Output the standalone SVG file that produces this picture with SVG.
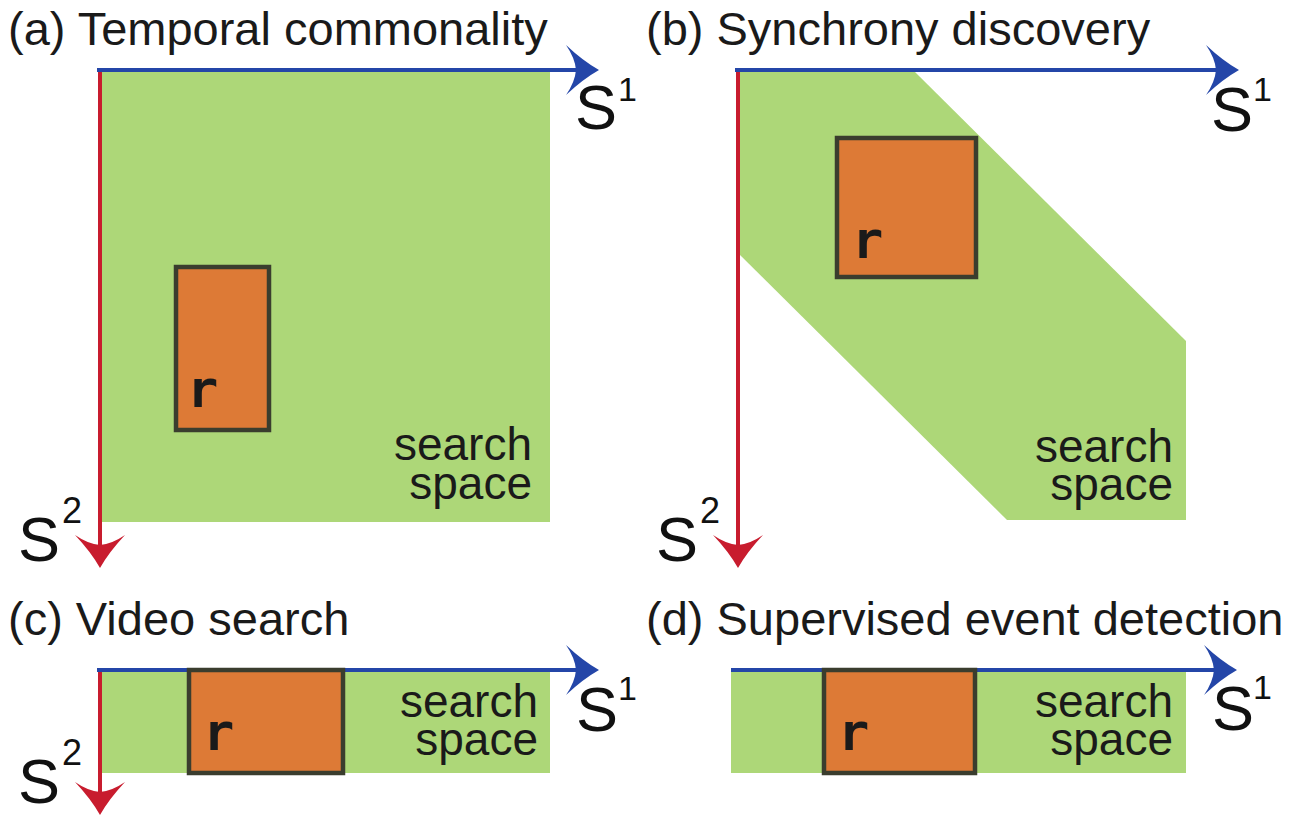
<svg xmlns="http://www.w3.org/2000/svg" width="1299" height="818" viewBox="0 0 1299 818">
<defs>
<style>
.title{font-family:"Liberation Sans",Arial,sans-serif;font-size:47px;fill:#1a1a1a}
.ss{font-family:"Liberation Sans",Arial,sans-serif;font-size:46px;fill:#1a1a1a;text-anchor:end}
.S{font-family:"Liberation Sans",Arial,sans-serif;font-size:63px;fill:#111}
.sup1{font-family:"Liberation Sans",Arial,sans-serif;font-size:34px;fill:#111}
.sup2{font-family:"Liberation Sans",Arial,sans-serif;font-size:36px;fill:#111}
.r{font-family:"DejaVu Sans Mono","Liberation Mono",monospace;font-weight:bold;font-size:52px;fill:#1a1a1a}
.space{fill:#add778}
.box{fill:#dd7a36;stroke:#3a3d2e;stroke-width:4.5}
.ax1{stroke:#2446a8;stroke-width:4;fill:none;marker-end:url(#hb)}
.ax2{stroke:#c81c2e;stroke-width:4;fill:none;marker-end:url(#hr)}
</style>
<marker id="hb" viewBox="0 -26 34 52" refX="10" refY="0" markerWidth="34" markerHeight="52" markerUnits="userSpaceOnUse" orient="auto" overflow="visible">
<path d="M33,0 Q17,-9 0,-25 Q9,-12 10,0 Q9,12 0,25 Q17,9 33,0 Z" fill="#2446a8"/>
</marker>
<marker id="hr" viewBox="0 -26 34 52" refX="10" refY="0" markerWidth="34" markerHeight="52" markerUnits="userSpaceOnUse" orient="auto" overflow="visible">
<path d="M33,0 Q17,-9 0,-25 Q9,-12 10,0 Q9,12 0,25 Q17,9 33,0 Z" fill="#c81c2e"/>
</marker>
</defs>
<rect width="1299" height="818" fill="#fff"/>

<g id="panel-a">
<text class="title" x="8" y="45">(a) Temporal commonality</text>
<rect id="space-a" class="space" x="100" y="72" width="450" height="450"/>
</g>
<g id="panel-b">
<text class="title" x="646" y="45">(b) Synchrony discovery</text>
<polygon id="space-b" class="space" points="738,72 915,72 1186,341 1186,520 1007,520 738,253"/>
</g>
<g id="panel-c">
<text class="title" x="8" y="635">(c) Video search</text>
<rect id="space-c" class="space" x="100" y="672" width="450" height="101"/>
</g>
<g id="panel-d">
<text class="title" x="646" y="635">(d) Supervised event detection</text>
<rect id="space-d" class="space" x="731" y="672" width="455" height="101"/>
</g>

<g id="connectors">
<path class="ax1" d="M97,70 H576"/>
<path class="ax2" d="M100,72 V545"/>
<path class="ax1" d="M735,70 H1216"/>
<path class="ax2" d="M738,72 V545"/>
<path class="ax1" d="M97,670 H576"/>
<path class="ax2" d="M100,672 V792"/>
<path class="ax1" d="M731,670 H1214"/>
</g>

<g id="box-a"><rect class="box" x="176" y="267" width="93" height="163"/><text class="r" x="187" y="407">r</text></g>
<g id="box-b"><rect class="box" x="837" y="138" width="139" height="139"/><text class="r" x="852" y="258">r</text></g>
<g id="box-c"><rect class="box" x="189" y="670" width="154" height="103"/><text class="r" x="203" y="750">r</text></g>
<g id="box-d"><rect class="box" x="824" y="670" width="151" height="103"/><text class="r" x="838" y="750">r</text></g>

<g id="label-ss-a"><text class="ss" x="532" y="460">search</text><text class="ss" x="532" y="499">space</text></g>
<g id="label-ss-b"><text class="ss" x="1173" y="462">search</text><text class="ss" x="1173" y="500">space</text></g>
<g id="label-ss-c"><text class="ss" x="538" y="717">search</text><text class="ss" x="538" y="755">space</text></g>
<g id="label-ss-d"><text class="ss" x="1173" y="717">search</text><text class="ss" x="1173" y="755">space</text></g>

<g id="axis-labels">
<text class="S" x="575" y="129">S</text><text class="sup1" x="618" y="101">1</text>
<text class="S" x="18" y="561">S</text><text class="sup2" x="62" y="523">2</text>
<text class="S" x="1211" y="131">S</text><text class="sup1" x="1253" y="101">1</text>
<text class="S" x="656" y="561">S</text><text class="sup2" x="700" y="523">2</text>
<text class="S" x="576" y="731">S</text><text class="sup1" x="618" y="700">1</text>
<text class="S" x="18" y="803">S</text><text class="sup2" x="62" y="765">2</text>
<text class="S" x="1212" y="730">S</text><text class="sup1" x="1253" y="699">1</text>
</g>
</svg>
